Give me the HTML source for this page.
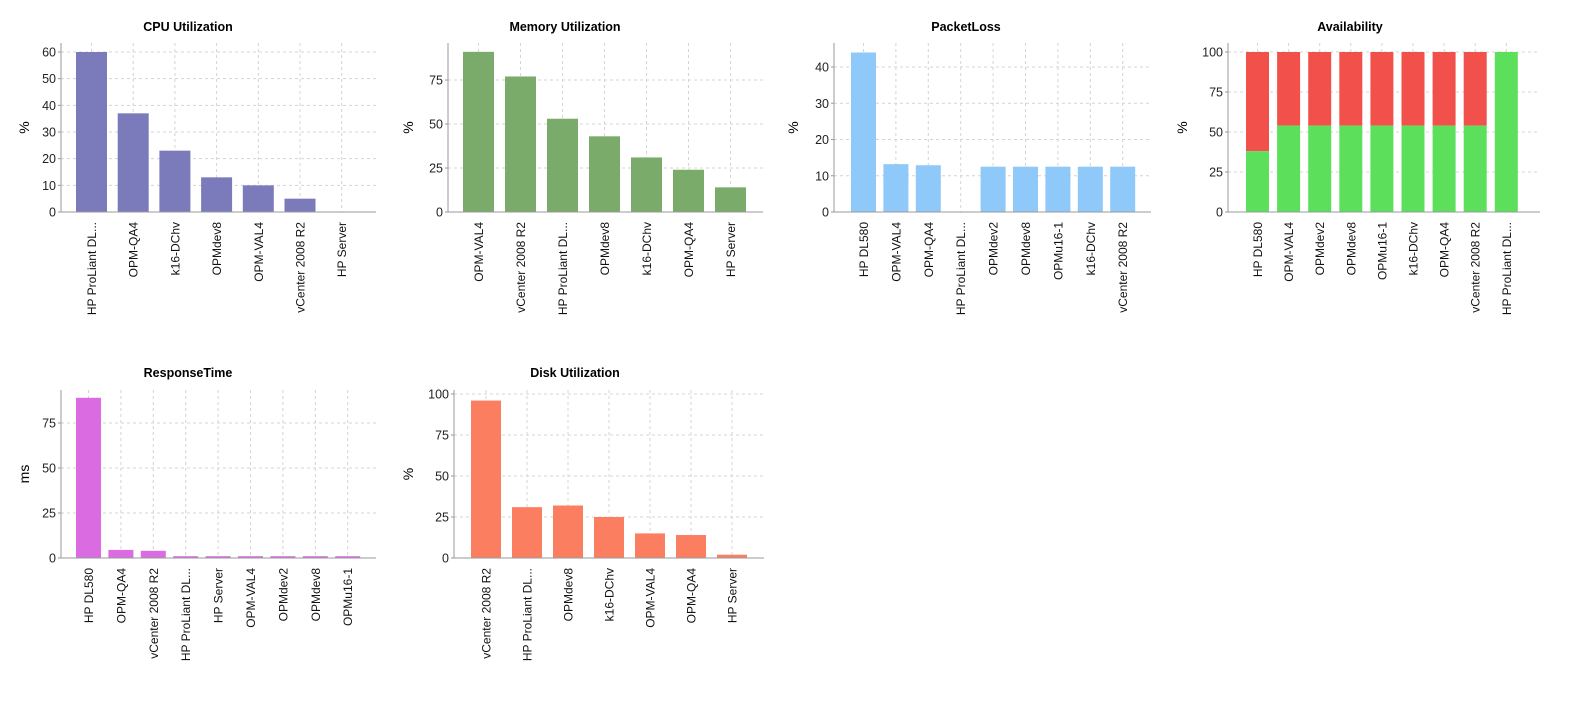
<!DOCTYPE html>
<html><head><meta charset="utf-8"><style>
body{margin:0;background:#fff;}
svg text{font-family:"Liberation Sans",Arial,sans-serif;}
</style></head><body>
<svg id="s" width="1581" height="705" xmlns="http://www.w3.org/2000/svg"></svg>
<script>
var charts=[
{t:"CPU Utilization",tx:188,ty:31,yl:"%",ylx:24,x0:61,x1:376,base:212,top:43,ppu:160/60,ticks:[0,10,20,30,40,50,60],bl:76,bw:31,st:41.7,c:"#7b7bbb",
 cats:["HP ProLiant DL...","OPM-QA4","k16-DChv","OPMdev8","OPM-VAL4","vCenter 2008 R2","HP Server"],v:[60,37,23,13,10,5,0]},
{t:"Memory Utilization",tx:565,ty:31,yl:"%",ylx:408,x0:448,x1:763,base:212,top:43,ppu:132/75,ticks:[0,25,50,75],bl:463,bw:31,st:42,c:"#7aab6a",
 cats:["OPM-VAL4","vCenter 2008 R2","HP ProLiant DL...","OPMdev8","k16-DChv","OPM-QA4","HP Server"],v:[91,77,53,43,31,24,14]},
{t:"PacketLoss",tx:966,ty:31,yl:"%",ylx:793,x0:834,x1:1151,base:212,top:43,ppu:145/40,ticks:[0,10,20,30,40],bl:851,bw:25,st:32.4,c:"#8ec9f9",
 cats:["HP DL580","OPM-VAL4","OPM-QA4","HP ProLiant DL...","OPMdev2","OPMdev8","OPMu16-1","k16-DChv","vCenter 2008 R2"],v:[44,13.2,12.9,0,12.5,12.5,12.5,12.5,12.5]},
{t:"Availability",tx:1350,ty:31,yl:"%",ylx:1182,x0:1228,x1:1540,base:212,top:43,ppu:160/100,ticks:[0,25,50,75,100],bl:1246,bw:23,st:31.1,c:"#5ce05c",c2:"#f2514b",
 cats:["HP DL580","OPM-VAL4","OPMdev2","OPMdev8","OPMu16-1","k16-DChv","OPM-QA4","vCenter 2008 R2","HP ProLiant DL..."],v:[38,54,54,54,54,54,54,54,100]},
{t:"ResponseTime",tx:188,ty:377,yl:"ms",ylx:24,x0:61,x1:376,base:558,top:390,ppu:180/100,ticks:[0,25,50,75],bl:76,bw:25,st:32.4,c:"#da6be0",
 cats:["HP DL580","OPM-QA4","vCenter 2008 R2","HP ProLiant DL...","HP Server","OPM-VAL4","OPMdev2","OPMdev8","OPMu16-1"],v:[89,4.5,4,1,1,1,1,1,1]},
{t:"Disk Utilization",tx:575,ty:377,yl:"%",ylx:408,x0:454,x1:764,base:558,top:390,ppu:164/100,ticks:[0,25,50,75,100],bl:471,bw:30,st:41,c:"#fb7e61",
 cats:["vCenter 2008 R2","HP ProLiant DL...","OPMdev8","k16-DChv","OPM-VAL4","OPM-QA4","HP Server"],v:[96,31,32,25,15,14,2]}
];
var h="";
charts.forEach(function(c){
 var ym=(c.base+c.top)/2;
 h+='<text x="'+c.tx+'" y="'+c.ty+'" font-size="12.5" font-weight="bold" text-anchor="middle">'+c.t+'</text>';
 h+='<text transform="translate('+(c.ylx+5)+','+ym+') rotate(-90)" font-size="14" text-anchor="middle">'+c.yl+'</text>';
 c.ticks.forEach(function(t){var y=c.base-t*c.ppu;
  if(t>0)h+='<line x1="'+c.x0+'" x2="'+c.x1+'" y1="'+y+'" y2="'+y+'" stroke="#d4d4d4" stroke-dasharray="3,3"/>';
  h+='<text x="'+(c.x0-5)+'" y="'+(y+4.5)+'" font-size="12.5" text-anchor="end" fill="#222">'+t+'</text>';
  h+='<line x1="'+(c.x0-3)+'" x2="'+c.x0+'" y1="'+y+'" y2="'+y+'" stroke="#999"/>';
 });
 c.cats.forEach(function(n,i){
  var l=c.bl+i*c.st,cx=l+c.bw/2;
  h+='<line x1="'+cx+'" x2="'+cx+'" y1="'+c.top+'" y2="'+c.base+'" stroke="#d4d4d4" stroke-dasharray="3,3"/>';
  var v=c.v[i];
  if(c.c2){h+='<rect x="'+l+'" y="'+(c.base-100*c.ppu)+'" width="'+c.bw+'" height="'+(100-v)*c.ppu+'" fill="'+c.c2+'"/>';}
  if(v>0)h+='<rect x="'+l+'" y="'+(c.base-v*c.ppu)+'" width="'+c.bw+'" height="'+v*c.ppu+'" fill="'+c.c+'"/>';
  h+='<text transform="translate('+(cx+4.5)+','+(c.base+10)+') rotate(-90)" font-size="12" text-anchor="end" fill="#111">'+n+'</text>';
 });
 h+='<line x1="'+c.x0+'" x2="'+c.x0+'" y1="'+c.top+'" y2="'+c.base+'" stroke="#999"/>';
 h+='<line x1="'+c.x0+'" x2="'+c.x1+'" y1="'+c.base+'" y2="'+c.base+'" stroke="#999"/>';
});
document.getElementById("s").innerHTML=h;
</script>
</body></html>
